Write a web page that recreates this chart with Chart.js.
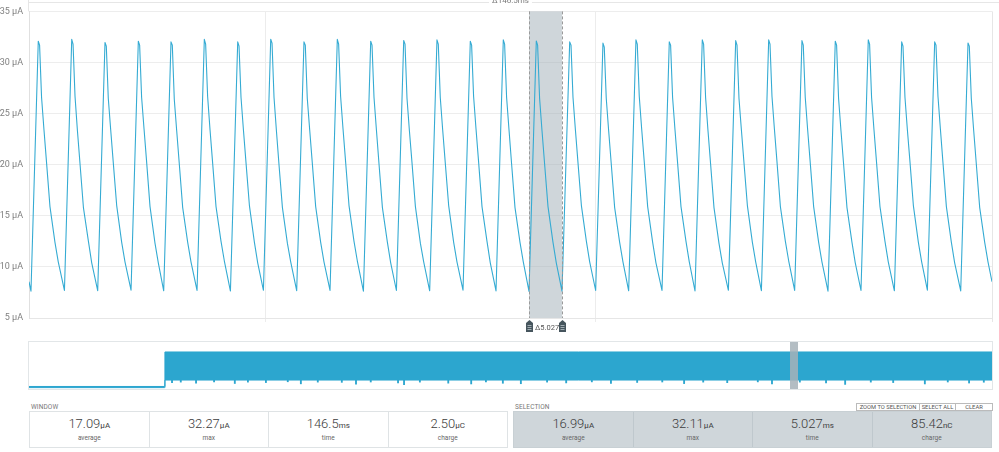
<!DOCTYPE html>
<html>
<head>
<meta charset="utf-8">
<script src="https://cdn.jsdelivr.net/npm/chart.js@4.4.1/dist/chart.umd.min.js"></script>
<style>
    body { margin: 0; background: #fff; font-family: Roboto, "Noto Sans", sans-serif; width: 999px; height: 452px; overflow: hidden; position: relative; }
    #mainWrap { position: absolute; left: 0; top: 0; width: 999px; height: 336px; }
    #overviewWrap { position: absolute; left: 0; top: 338px; width: 999px; height: 56px; }
    .cap { position: absolute; top: 403px; font-size: 6.5px; color: #777; letter-spacing: 0.1px; }
    .box { position: absolute; top: 411px; height: 35px; width: 477px; border: 1px solid #dfe3e5; display: flex; }
    .box.sel { background: #cfd6da; border-color: #c8d0d4; }
    .cell { flex: 1; text-align: center; border-left: 1px solid #dfe3e5; }
    .box.sel .cell { border-left-color: #bfc8cd; }
    .cell:first-child { border-left: none; }
    .val { font-size: 13px; font-weight: 300; color: #3c3c3c; margin-top: 3.5px; line-height: 15px; }
    .val small { font-size: 8px; font-weight: 400; }
    .lbl { font-size: 6.5px; color: #666; margin-top: 1.5px; line-height: 8px; }
    .btns { position: absolute; left: 856px; top: 403px; display: flex; }
    .btns span { font-size: 5.8px; color: #555; border: 1px solid #bbb; height: 6px; line-height: 6px; text-align: center; background: #fff; white-space: nowrap; overflow: hidden; }
</style>
</head>
<body>
<div id="mainWrap"><canvas id="mainChart"></canvas></div>
<div id="overviewWrap"><canvas id="overviewChart"></canvas></div>

<div class="cap" style="left:31px;">WINDOW</div>
<div class="box" style="left:29px;">
    <div class="cell"><div class="val">17.09<small>µA</small></div><div class="lbl">average</div></div>
    <div class="cell"><div class="val">32.27<small>µA</small></div><div class="lbl">max</div></div>
    <div class="cell"><div class="val">146.5<small>ms</small></div><div class="lbl">time</div></div>
    <div class="cell"><div class="val">2.50<small>µC</small></div><div class="lbl">charge</div></div>
</div>

<div class="cap" style="left:515px;">SELECTION</div>
<div class="btns">
    <span style="width:62px;">ZOOM TO SELECTION</span>
    <span style="width:35px;border-left:none;">SELECT ALL</span>
    <span style="width:36px;border-left:none;">CLEAR</span>
</div>
<div class="box sel" style="left:513px;">
    <div class="cell"><div class="val">16.99<small>µA</small></div><div class="lbl">average</div></div>
    <div class="cell"><div class="val">32.11<small>µA</small></div><div class="lbl">max</div></div>
    <div class="cell"><div class="val">5.027<small>ms</small></div><div class="lbl">time</div></div>
    <div class="cell"><div class="val">85.42<small>nC</small></div><div class="lbl">charge</div></div>
</div>

<script>
// window: time in ms, current in µA (one row per sawtooth cycle)
const mainTimes = [
    0,
    0.30, 1.41, 1.61, 1.91, 2.28, 2.67, 3.19, 3.95, 4.45,
    5.39, 6.50, 6.70, 7.00, 7.37, 7.76, 8.28, 9.04, 9.54,
    10.45, 11.56, 11.76, 12.06, 12.43, 12.82, 13.34, 14.10, 14.60,
    15.52, 16.63, 16.83, 17.13, 17.50, 17.89, 18.41, 19.17, 19.67,
    20.49, 21.60, 21.80, 22.10, 22.47, 22.86, 23.38, 24.14, 24.64,
    25.56, 26.67, 26.87, 27.17, 27.54, 27.93, 28.45, 29.21, 29.71,
    30.64, 31.75, 31.95, 32.25, 32.62, 33.01, 33.53, 34.29, 34.79,
    35.66, 36.77, 36.97, 37.27, 37.64, 38.03, 38.55, 39.31, 39.81,
    40.72, 41.83, 42.03, 42.33, 42.70, 43.09, 43.61, 44.37, 44.87,
    45.79, 46.90, 47.10, 47.40, 47.77, 48.16, 48.68, 49.44, 49.94,
    50.87, 51.98, 52.18, 52.48, 52.85, 53.24, 53.76, 54.52, 55.02,
    55.89, 57.00, 57.20, 57.50, 57.87, 58.26, 58.78, 59.54, 60.04,
    60.95, 62.06, 62.26, 62.56, 62.93, 63.32, 63.84, 64.60, 65.10,
    66.02, 67.13, 67.33, 67.63, 68.00, 68.39, 68.91, 69.67, 70.17,
    71.04, 72.15, 72.35, 72.65, 73.02, 73.41, 73.93, 74.69, 75.19,
    76.06, 77.17, 77.37, 77.67, 78.04, 78.43, 78.95, 79.71, 80.21,
    81.08, 82.25, 82.45, 82.75, 83.12, 83.51, 84.03, 84.79, 85.29,
    86.20, 87.31, 87.51, 87.81, 88.18, 88.57, 89.09, 89.85, 90.35,
    91.22, 92.33, 92.53, 92.83, 93.20, 93.59, 94.11, 94.87, 95.37,
    96.29, 97.40, 97.60, 97.90, 98.27, 98.66, 99.18, 99.94, 100.44,
    101.31, 102.42, 102.62, 102.92, 103.29, 103.68, 104.20, 104.96, 105.46,
    106.39, 107.50, 107.70, 108.00, 108.37, 108.76, 109.28, 110.04, 110.54,
    111.41, 112.52, 112.72, 113.02, 113.39, 113.78, 114.30, 115.06, 115.56,
    116.47, 117.58, 117.78, 118.08, 118.45, 118.84, 119.36, 120.12, 120.62,
    121.54, 122.65, 122.85, 123.15, 123.52, 123.91, 124.43, 125.19, 125.69,
    126.56, 127.67, 127.87, 128.17, 128.54, 128.93, 129.45, 130.21, 130.71,
    131.64, 132.75, 132.95, 133.25, 133.62, 134.01, 134.53, 135.29, 135.79,
    136.66, 137.77, 137.97, 138.27, 138.64, 139.03, 139.55, 140.31, 140.81,
    141.73, 142.84, 143.04, 143.34, 143.71, 144.10, 144.62, 145.38, 145.88,
    146.49
];
const mainCurrent = [
    8.55,
    7.62, 32.08, 31.7, 26.6, 23.4, 20.2, 15.9, 12.4, 10.5,
    7.70, 32.27, 31.8, 26.7, 23.3, 20.1, 15.8, 12.5, 10.4,
    7.68, 31.96, 31.6, 26.5, 23.4, 20.2, 16.0, 12.4, 10.5,
    7.72, 32.08, 31.7, 26.6, 23.5, 20.3, 15.9, 12.3, 10.4,
    7.66, 32.02, 31.7, 26.4, 23.3, 20.1, 15.8, 12.4, 10.5,
    7.70, 32.27, 31.8, 26.7, 23.4, 20.2, 15.9, 12.5, 10.6,
    7.64, 32.02, 31.6, 26.6, 23.4, 20.2, 16.0, 12.4, 10.4,
    7.71, 32.27, 31.9, 26.6, 23.3, 20.0, 15.8, 12.3, 10.5,
    7.67, 32.02, 31.7, 26.5, 23.4, 20.2, 15.9, 12.4, 10.5,
    7.70, 32.27, 31.8, 26.7, 23.5, 20.3, 16.0, 12.5, 10.6,
    7.62, 32.08, 31.7, 26.6, 23.4, 20.1, 15.8, 12.4, 10.4,
    7.69, 32.15, 31.8, 26.5, 23.3, 20.2, 15.9, 12.3, 10.5,
    7.66, 32.22, 31.8, 26.6, 23.4, 20.2, 16.0, 12.4, 10.5,
    7.72, 32.08, 31.7, 26.7, 23.5, 20.3, 15.9, 12.5, 10.4,
    7.65, 32.22, 31.8, 26.6, 23.4, 20.1, 15.8, 12.4, 10.5,
    7.60, 32.11, 31.7, 26.5, 23.3, 20.1, 15.9, 12.4, 10.4,
    7.63, 32.02, 31.7, 26.6, 23.4, 20.2, 16.0, 12.5, 10.5,
    7.69, 31.90, 31.5, 26.5, 23.3, 20.1, 15.8, 12.4, 10.5,
    7.66, 32.22, 31.8, 26.7, 23.5, 20.3, 15.9, 12.4, 10.4,
    7.70, 32.02, 31.7, 26.6, 23.4, 20.2, 15.9, 12.5, 10.5,
    7.64, 32.22, 31.8, 26.6, 23.3, 20.1, 15.8, 12.3, 10.4,
    7.71, 32.15, 31.7, 26.5, 23.4, 20.2, 16.0, 12.4, 10.5,
    7.67, 32.22, 31.8, 26.7, 23.5, 20.3, 15.9, 12.5, 10.6,
    7.70, 32.15, 31.7, 26.6, 23.4, 20.2, 15.9, 12.4, 10.5,
    7.63, 32.08, 31.7, 26.5, 23.3, 20.1, 15.8, 12.4, 10.4,
    7.69, 32.22, 31.8, 26.6, 23.4, 20.2, 15.9, 12.5, 10.5,
    7.66, 32.02, 31.6, 26.6, 23.4, 20.3, 16.0, 12.4, 10.5,
    7.72, 32.02, 31.7, 26.7, 23.5, 20.2, 15.9, 12.4, 10.4,
    7.65, 31.90, 31.6, 26.5, 23.3, 20.1, 15.8, 12.4, 10.5,
    8.55
];
const windowLength = 146.49;          // ms
const xGridTicks = [35.9, 86.1];      // ms, unlabelled vertical grid lines
const yTicks = [5, 10, 15, 20, 25, 30, 35];
const selStart = 76.06, selEnd = 81.08;

// overview of the whole recording: time in s, current in µA
const overviewTimes = [0, 2.48, 2.49, 17.64];
const overviewMax = [2.2, 2.2, 32.3, 32.3];
const overviewMin = [1.2, 1.2, 7.8, 7.8];
const dipTimes = [2.62, 2.78, 3.06, 3.39, 3.77, 4.01, 4.34, 4.74, 4.98, 5.29, 5.73, 5.99, 6.26, 6.76, 6.87,
    7.16, 7.68, 8.10, 8.37, 8.68, 9.01, 9.49, 9.84, 10.31, 10.66, 11.14, 11.60, 12.00, 12.35, 12.79,
    13.35, 13.61, 14.12, 14.60, 14.95, 15.42, 15.83, 16.41, 16.83, 17.22, 17.49];
const dipValues = [5.5, 6.0, 5.0, 6.2, 4.8, 6.0, 5.6, 6.3, 4.5, 6.0, 5.8, 4.2, 6.1, 5.2, 3.8,
    6.0, 5.1, 4.4, 6.2, 5.0, 4.6, 6.0, 5.3, 6.2, 4.9, 5.7, 6.1, 4.7, 6.0, 5.5,
    6.2, 4.5, 6.0, 5.4, 4.0, 6.0, 5.6, 4.4, 6.1, 5.2, 5.9];
const overviewWindow = [13.94, 14.0865];
const overviewLength = 17.64;

const BLUE = '#2ca6cf';
const FONT = 'Roboto, "Noto Sans", sans-serif';

function drawHandle(ctx, x, y) {
    ctx.fillStyle = '#46555d';
    ctx.beginPath();
    ctx.moveTo(x, y);
    ctx.lineTo(x + 3.5, y + 3);
    ctx.lineTo(x + 3.5, y + 12);
    ctx.lineTo(x - 3.5, y + 12);
    ctx.lineTo(x - 3.5, y + 3);
    ctx.closePath();
    ctx.fill();
    ctx.strokeStyle = '#b8c3c8';
    ctx.lineWidth = 0.8;
    for (const dy of [5.5, 7.5, 9.5]) {
        ctx.beginPath();
        ctx.moveTo(x - 2, y + dy);
        ctx.lineTo(x + 2, y + dy);
        ctx.stroke();
    }
}

const selectionPlugin = {
    id: 'selection',
    beforeDatasetsDraw(chart) {
        const { ctx, chartArea: a, scales: { x } } = chart;
        const x0 = x.getPixelForValue(selStart), x1 = x.getPixelForValue(selEnd);
        ctx.save();
        ctx.fillStyle = 'rgba(160,174,182,0.5)';
        ctx.fillRect(x0, a.top, x1 - x0, a.bottom - a.top);
        ctx.restore();
    },
    afterDatasetsDraw(chart) {
        const { ctx, chartArea: a, scales: { x } } = chart;
        const x0 = Math.round(x.getPixelForValue(selStart)) + 0.5;
        const x1 = Math.round(x.getPixelForValue(selEnd)) + 0.5;
        ctx.save();
        // dashed selection edges
        ctx.strokeStyle = '#9a9a9a';
        ctx.lineWidth = 1;
        ctx.setLineDash([3, 2]);
        for (const px of [x0, x1]) {
            ctx.beginPath();
            ctx.moveTo(px, a.top);
            ctx.lineTo(px, a.bottom);
            ctx.stroke();
        }
        ctx.setLineDash([]);
        // right frame and top window ruler
        ctx.strokeStyle = '#e6e6e6';
        ctx.beginPath();
        ctx.moveTo(a.right + 0.5, a.top);
        ctx.lineTo(a.right + 0.5, a.bottom + 4);
        ctx.moveTo(a.left - 0.5, 0);
        ctx.lineTo(a.left - 0.5, a.top);
        ctx.moveTo(a.left, 2.5);
        ctx.lineTo(a.right + 7, 2.5);
        ctx.stroke();
        ctx.font = '8px ' + FONT;
        ctx.textAlign = 'center';
        ctx.textBaseline = 'middle';
        const label = 'Δ' + '146.5ms';
        const mid = (a.left + a.right) / 2;
        const w = ctx.measureText(label).width;
        ctx.fillStyle = '#fff';
        ctx.fillRect(mid - w / 2 - 3, 0, w + 6, 5);
        ctx.fillStyle = '#777';
        ctx.fillText(label, mid, 0.5);
        // selection length, partly hidden by the right handle
        ctx.save();
        ctx.beginPath();
        ctx.rect(x0 + 4, a.bottom + 2, x1 - x0 - 4, 14);
        ctx.clip();
        ctx.fillStyle = '#555';
        ctx.textAlign = 'left';
        ctx.font = '7.5px ' + FONT;
        ctx.fillText('Δ5.027ms', x0 + 5.5, a.bottom + 10);
        ctx.restore();
        drawHandle(ctx, x0, a.bottom + 2);
        drawHandle(ctx, x1, a.bottom + 2);
        ctx.restore();
    }
};

const overviewPlugin = {
    id: 'overviewFrame',
    afterDatasetsDraw(chart) {
        const { ctx, chartArea: a, scales: { x } } = chart;
        const x0 = x.getPixelForValue(overviewWindow[0]);
        const x1 = x.getPixelForValue(overviewWindow[1]);
        ctx.save();
        ctx.fillStyle = 'rgba(166,178,185,0.85)';
        ctx.fillRect(x0, a.top, x1 - x0, a.bottom - a.top);
        ctx.strokeStyle = '#e2e6e8';
        ctx.lineWidth = 1;
        ctx.strokeRect(a.left - 0.5, a.top - 0.5, a.right - a.left + 1, a.bottom - a.top + 1);
        ctx.restore();
    }
};

new Chart(document.getElementById('mainChart'), {
    type: 'line',
    data: {
        datasets: [{
            data: mainTimes.map((t, i) => ({ x: t, y: mainCurrent[i] })),
            borderColor: '#35abd3',
            borderWidth: 1.1,
            borderJoinStyle: 'round',
            pointRadius: 0,
            tension: 0,
            fill: false
        }]
    },
    options: {
        responsive: true,
        maintainAspectRatio: false,
        animation: false,
        events: [],
        layout: { padding: { top: 11, bottom: 14, left: 0, right: 7 } },
        plugins: { legend: { display: false }, tooltip: { enabled: false } },
        scales: {
            x: {
                type: 'linear',
                min: 0,
                max: windowLength,
                afterBuildTicks: scale => { scale.ticks = xGridTicks.map(v => ({ value: v })); },
                afterFit: scale => { scale.height = 4; },
                ticks: { display: false },
                grid: { color: '#ececec', drawTicks: true, tickLength: 4 },
                border: { color: '#e6e6e6' }
            },
            y: {
                min: 5,
                max: 35,
                afterBuildTicks: scale => { scale.ticks = yTicks.map(v => ({ value: v })); },
                afterFit: scale => { scale.width = 29; },
                ticks: {
                    padding: 6,
                    color: '#808080',
                    font: { family: FONT, size: 9 },
                    callback: v => v + ' µA'
                },
                grid: { color: '#ededed', drawTicks: false },
                border: { color: '#e0e0e0' }
            }
        }
    },
    plugins: [selectionPlugin]
});

new Chart(document.getElementById('overviewChart'), {
    type: 'line',
    data: {
        datasets: [{
            data: overviewTimes.map((t, i) => ({ x: t, y: overviewMax[i] })),
            borderColor: BLUE,
            backgroundColor: BLUE,
            borderWidth: 1,
            pointRadius: 0,
            tension: 0,
            fill: '+1'
        }, {
            data: overviewTimes.map((t, i) => ({ x: t, y: overviewMin[i] })),
            borderColor: BLUE,
            borderWidth: 1,
            pointRadius: 0,
            tension: 0,
            fill: false
        }, {
            type: 'bar',
            data: dipTimes.map((t, i) => ({ x: t, y: [dipValues[i], 7.9] })),
            backgroundColor: BLUE,
            barThickness: 1.2,
            grouped: false
        }]
    },
    options: {
        responsive: true,
        maintainAspectRatio: false,
        animation: false,
        events: [],
        layout: { padding: { top: 4, bottom: 5, left: 29, right: 7 } },
        plugins: { legend: { display: false }, tooltip: { enabled: false } },
        scales: {
            x: { type: 'linear', min: 0, max: overviewLength, offset: false, display: false },
            y: { min: 0, max: 41, display: false }
        }
    },
    plugins: [overviewPlugin]
});
</script>
</body>
</html>
